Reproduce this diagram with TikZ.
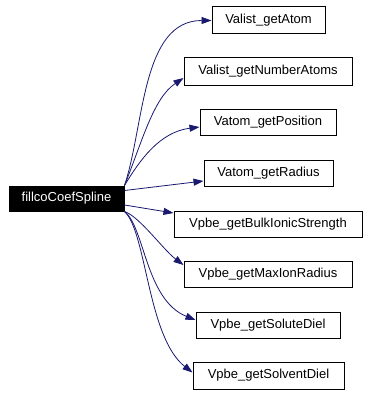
\documentclass[tikz,border=0pt]{standalone}
\usepackage{fontspec}
\setmainfont{Liberation Sans}
\usetikzlibrary{arrows.meta}
\definecolor{callblue}{HTML}{191970}

\begin{document}
\begin{tikzpicture}[
		x=1pt,y=-1pt,
		>={Triangle[length=10pt,width=7pt]},
		func/.style={
			draw,
			line width=1pt,
			minimum height=26pt,
			inner sep=0pt,
			font=\fontsize{13}{15}\selectfont
		},
		root/.style={
			func,
			fill=black,
			text=white
		},
		call/.style={
			->,
			color=callblue,
			line width=0.8pt
		}
		]
		\useasboundingbox (0,0) rectangle (370,396);
		% caller
		\node[root,minimum width=115pt,minimum height=25pt] (main) at (66.5,198.5) {fillcoCoefSpline};
		% callees
		\node[func,minimum width=113pt,minimum height=27pt] (atom) at (268.5,20.5) {Valist\_getAtom};
		\node[func,minimum width=168pt,minimum height=27pt] (natoms) at (268,71.5) {Valist\_getNumberAtoms};
		\node[func,minimum width=136pt] (position) at (268,122) {Vatom\_getPosition};
		\node[func,minimum width=129pt] (radius) at (268.5,173) {Vatom\_getRadius};
		\node[func,minimum width=188pt] (ionic) at (268,224) {Vpbe\_getBulkIonicStrength};
		\node[func,minimum width=168pt] (maxion) at (268,274) {Vpbe\_getMaxIonRadius};
		\node[func,minimum width=144pt] (solute) at (268,325) {Vpbe\_getSoluteDiel};
		\node[func,minimum width=151pt,minimum height=27pt] (solvent) at (268.5,375.5) {Vpbe\_getSolventDiel};
		% calls
		\draw[call] (main.north east) .. controls +(20,-60) and +(-70,0) .. (atom.west);
		\draw[call] (main.north east) .. controls +(18,-45) and +(-30,20) .. ([yshift=-6.5pt]natoms.west);
		\draw[call] (main.north east) .. controls +(15,-25) and +(-40,5) .. ([yshift=-5pt]position.west);
		\draw[call] ([yshift=8pt]main.east) -- ([yshift=-8pt]radius.west);
		\draw[call] ([yshift=-6.5pt]main.east) -- ([yshift=11pt]ionic.west);
		\draw[call] (main.south east) .. controls +(15,5) and +(-20,-15) .. ([yshift=9pt]maxion.west);
		\draw[call] (main.south east) .. controls +(20,15) and +(-50,-20) .. ([yshift=5pt]solute.west);
		\draw[call] (main.south east) .. controls +(22,20) and +(-45,-35) .. ([yshift=3pt]solvent.west);
		\end{tikzpicture}
\end{document}
